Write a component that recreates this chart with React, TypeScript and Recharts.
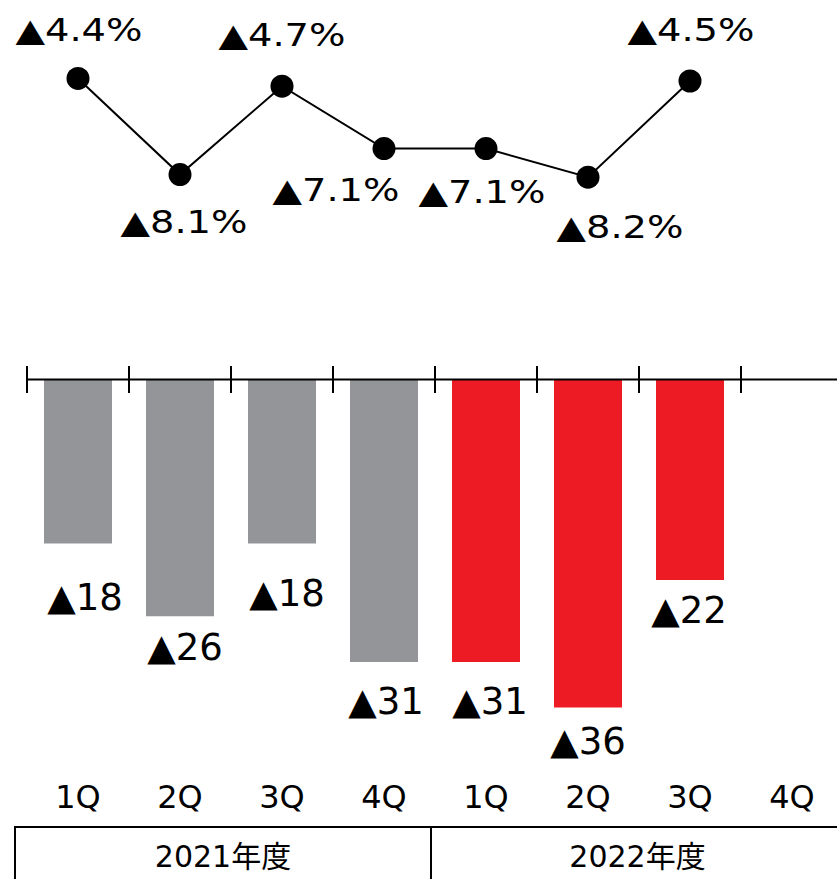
import React from "react";
import { LineChart, Line, BarChart, Bar, Cell, XAxis, YAxis, LabelList } from "recharts";

// quarters (fiscal year basis), ▲ = negative
const quarters = ["1Q", "2Q", "3Q", "4Q", "1Q", "2Q", "3Q", "4Q"];
const fiscalYears = ["2021年度", "2022年度"];
const marginPct = [-4.4, -8.1, -4.7, -7.1, -7.1, -8.2, -4.5, null];
const lossValues = [-18, -26, -18, -31, -31, -36, -22, null];

const GRAY = "#939598";
const RED = "#ED1C24";
const barColors = [GRAY, GRAY, GRAY, GRAY, RED, RED, RED, RED];

// label nudges [dx, dy] relative to point / bar end
const lineLabelOffsets = [
  [1, -48], [4, 47], [0, -51], [-48, 41], [-4, 43], [32, 50], [1, -51],
];
const barLabelOffsets = [
  [7, 54], [5, 31], [5, 50], [2, 40], [4, 40], [0, 34], [-1, 31],
];

const FONT = "'DejaVu Sans', 'Noto Sans CJK JP', sans-serif";
const CHART_W = 843;
const HALF_BAND = 51;

const data = quarters.map((q, i) => ({
  id: `${i < 4 ? 2021 : 2022}-${q}`,
  q,
  pct: marginPct[i],
  loss: lossValues[i],
}));

const fmt = (v: number, suffix = "") => `▲${Math.abs(v)}${suffix}`;

const LineValueLabel = (props: any) => {
  const { x, y, value, index } = props;
  if (value == null) return null;
  const [dx, dy] = lineLabelOffsets[index];
  return (
    <text
      x={x + dx}
      y={y + dy}
      textAnchor="middle"
      dominantBaseline="central"
      fontSize={32}
      fontFamily={FONT}
      fill="#000"
      textLength={127}
      lengthAdjust="spacingAndGlyphs"
    >
      {fmt(value, "%")}
    </text>
  );
};

const BarValueLabel = (props: any) => {
  const { x, y, width, height, value, index } = props;
  if (value == null) return null;
  const bottom = Math.max(y, y + height);
  const [dx, dy] = barLabelOffsets[index];
  return (
    <text
      x={x + width / 2 + dx}
      y={bottom + dy}
      textAnchor="middle"
      dominantBaseline="central"
      fontSize={37}
      fontFamily={FONT}
      fill="#000"
    >
      {fmt(value)}
    </text>
  );
};

// boundary tick crossing the zero axis
const BoundaryTick = (props: any) => {
  const { x, y } = props;
  return <line x1={x - HALF_BAND} x2={x - HALF_BAND} y1={y - 13.5} y2={y + 13.5} stroke="#000" strokeWidth={2} />;
};

const QuarterTick = (props: any) => {
  const { x, y, payload } = props;
  return (
    <text x={x} y={y} dy={20} textAnchor="middle" fontSize={32} fontFamily={FONT} fill="#000">
      {quarters[payload.index]}
    </text>
  );
};

export default function App() {
  return (
    <div
      style={{
        position: "absolute",
        left: 0,
        top: 0,
        width: 837,
        height: 879,
        overflow: "hidden",
        background: "#fff",
        fontFamily: FONT,
      }}
    >
      <div style={{ position: "absolute", left: 0, top: 0 }}>
        <LineChart width={CHART_W} height={300} data={data} margin={{ top: 16, right: 0, bottom: 76, left: 27 }}>
          <XAxis dataKey="id" hide padding={{ left: HALF_BAND, right: HALF_BAND }} />
          <YAxis hide domain={[-10, -2]} />
          <Line
            dataKey="pct"
            stroke="#000"
            strokeWidth={2}
            dot={{ r: 11.5, fill: "#000", stroke: "none" }}
            activeDot={false}
            isAnimationActive={false}
          >
            <LabelList dataKey="pct" content={LineValueLabel} />
          </Line>
        </LineChart>
      </div>

      <div style={{ position: "absolute", left: 0, top: 300 }}>
        <BarChart
          width={CHART_W}
          height={579}
          data={data}
          margin={{ top: 49.5, right: 0, bottom: 75.1, left: 27 }}
          barCategoryGap={17}
        >
          <XAxis
            dataKey="id"
            orientation="top"
            height={30}
            axisLine={{ stroke: "#000", strokeWidth: 2 }}
            tickLine={false}
            tickSize={0}
            tickMargin={0}
            tick={BoundaryTick}
            interval={0}
          />
          <XAxis
            dataKey="id"
            xAxisId="quarters"
            orientation="bottom"
            height={60}
            axisLine={false}
            tickLine={false}
            tickSize={0}
            tickMargin={44}
            tick={QuarterTick}
            interval={0}
          />
          <YAxis hide domain={[-40, 0]} />
          <Bar dataKey="loss" isAnimationActive={false}>
            {data.map((d, i) => (
              <Cell key={d.id} fill={barColors[i]} />
            ))}
            <LabelList dataKey="loss" content={BarValueLabel} />
          </Bar>
        </BarChart>
      </div>

      <div
        style={{
          position: "absolute",
          left: 14,
          top: 826,
          width: 829,
          height: 60,
          borderTop: "2px solid #000",
          borderLeft: "2px solid #000",
          display: "flex",
          boxSizing: "border-box",
        }}
      >
        {fiscalYears.map((fy, i) => (
          <div
            key={fy}
            style={{
              width: i === 0 ? 416 : 411,
              borderRight: i === 0 ? "2px solid #000" : "none",
              textAlign: "center",
              fontSize: 30,
              lineHeight: "58px",
              color: "#000",
              boxSizing: "border-box",
            }}
          >
            {fy}
          </div>
        ))}
      </div>
    </div>
  );
}
